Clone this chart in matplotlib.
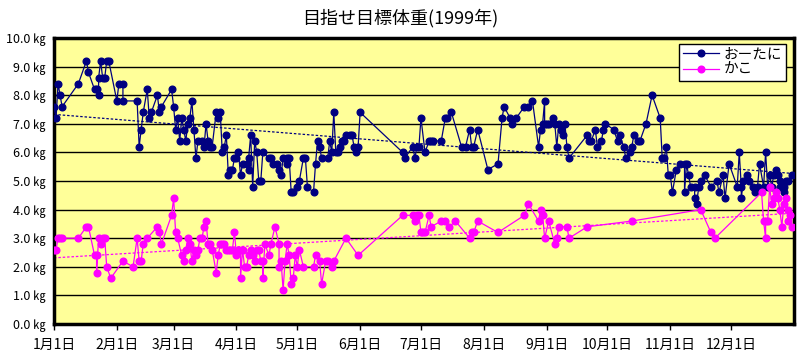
import numpy as np
import matplotlib
matplotlib.use("Agg")
import matplotlib.pyplot as plt

plt.rcParams['font.family'] = ['Noto Sans CJK JP', 'DejaVu Sans']

# 1999年1月1日からの日数と体重(kg)
otani_day = [0, 1, 2, 3, 4, 12, 16, 17, 20, 21, 22, 22, 23, 24, 25, 26, 27, 31, 32, 34, 34, 41, 42, 43, 44,
             46, 47, 48, 51, 52, 53, 58, 59, 60, 61, 62, 63, 64, 65, 66, 67, 68, 69, 70, 71, 73, 74, 75, 76,
             77, 78, 80, 81, 82, 83, 84, 85, 86, 87, 88, 89, 90, 91, 92, 93, 95, 96, 96, 97, 98, 99, 100,
             101, 102, 103, 106, 107, 108, 110, 111, 112, 113, 115, 115, 116, 117, 118, 120, 121, 123, 124,
             125, 128, 129, 130, 131, 132, 135, 136, 137, 138, 139, 140, 141, 142, 143, 144, 146, 147, 148,
             149, 150, 151, 172, 173, 177, 178, 179, 180, 181, 183, 185, 186, 187, 191, 193, 194, 196, 201,
             203, 205, 206, 207, 209, 214, 219, 221, 222, 225, 226, 228, 232, 234, 236, 239, 240, 241, 242,
             242, 243, 244, 246, 247, 248, 249, 250, 251, 252, 253, 254, 263, 264, 265, 267, 268, 270, 271,
             272, 276, 278, 279, 281, 282, 284, 285, 286, 288, 289, 292, 295, 299, 300, 301, 302, 303, 304,
             305, 307, 309, 311, 311, 312, 313, 314, 316, 316, 317, 318, 319, 321, 324, 327, 328, 330, 331,
             333, 337, 338, 339, 339, 340, 342, 343, 345, 346, 347, 348, 350, 351, 352, 353, 354, 355, 356,
             357, 358, 358, 360, 360, 361, 362, 364]
otani_kg = [7.6, 7.2, 8.4, 8.0, 7.6, 8.4, 9.2, 8.8, 8.2, 8.2, 8.0, 8.6, 9.2, 8.6, 8.6, 9.2, 9.2, 7.8, 8.4, 8.4,
            7.8, 7.8, 6.2, 6.8, 7.4, 8.2, 7.2, 7.4, 8.0, 7.4, 7.6, 8.2, 7.6, 6.8, 7.2, 6.4, 7.2, 6.8, 6.4,
            7.0, 7.2, 7.8, 6.8, 5.8, 6.4, 6.4, 6.2, 7.0, 6.4, 6.2, 6.2, 7.4, 7.2, 7.4, 6.0, 6.2, 6.6, 5.2,
            5.4, 5.4, 5.8, 5.8, 6.0, 5.2, 5.6, 5.6, 5.4, 5.8, 6.6, 4.8, 6.4, 6.0, 5.0, 5.0, 6.0, 5.8, 5.8,
            5.6, 5.6, 5.4, 5.2, 5.8, 5.6, 5.8, 5.8, 4.6, 4.6, 4.8, 5.0, 5.8, 5.8, 4.8, 4.6, 5.6, 6.4, 6.2,
            5.8, 5.8, 6.4, 6.0, 7.4, 6.0, 6.0, 6.2, 6.4, 6.4, 6.6, 6.6, 6.6, 6.2, 6.0, 6.2, 7.4, 6.0, 5.8,
            6.2, 5.8, 6.2, 6.2, 7.2, 6.0, 6.4, 6.4, 6.4, 6.4, 7.2, 7.2, 7.4, 6.2, 6.2, 6.8, 6.2, 6.2, 6.8,
            5.4, 5.6, 7.2, 7.6, 7.2, 7.0, 7.2, 7.6, 7.6, 7.8, 6.2, 6.8, 7.0, 7.8, 7.0, 7.0, 7.0, 7.2, 7.0,
            6.2, 7.0, 6.8, 6.6, 7.0, 6.2, 5.8, 6.6, 6.4, 6.4, 6.8, 6.2, 6.4, 6.8, 7.0, 6.8, 6.4, 6.6, 6.2,
            5.8, 6.0, 6.2, 6.6, 6.4, 6.4, 7.0, 8.0, 7.2, 5.8, 5.8, 6.2, 5.2, 5.2, 4.6, 5.4, 5.6, 5.6, 4.6,
            5.6, 5.2, 4.8, 4.8, 4.4, 4.2, 4.8, 5.0, 5.2, 4.8, 5.0, 4.6, 5.2, 4.4, 5.6, 4.8, 6.0, 4.8, 4.4,
            5.0, 5.2, 5.0, 4.8, 4.6, 4.8, 5.6, 4.8, 6.0, 4.8, 5.2, 4.8, 5.2, 5.4, 5.2, 5.0, 4.8, 4.6, 4.8,
            5.0, 5.0, 5.2]

kako_day = [0, 1, 2, 3, 4, 12, 16, 17, 20, 21, 21, 22, 23, 24, 25, 26, 28, 34, 39, 41, 42, 43, 44, 46, 51,
            52, 53, 58, 59, 60, 61, 63, 64, 65, 66, 67, 68, 69, 70, 71, 72, 73, 74, 75, 76, 77, 78, 80, 81,
            82, 83, 84, 85, 86, 87, 88, 89, 90, 91, 92, 92, 93, 94, 95, 96, 97, 98, 99, 100, 101, 102, 103,
            103, 104, 106, 107, 109, 111, 111, 112, 113, 114, 115, 116, 117, 118, 119, 120, 121, 123, 128,
            129, 131, 132, 134, 135, 137, 138, 144, 150, 172, 177, 178, 179, 180, 181, 182, 183, 185, 186,
            191, 193, 195, 198, 205, 206, 207, 209, 219, 232, 234, 239, 240, 241, 242, 244, 247, 248, 249,
            253, 254, 263, 285, 319, 324, 326, 349, 350, 351, 351, 352, 353, 354, 355, 356, 357, 358, 359,
            360, 361, 362, 362, 363, 364]
kako_kg = [2.6, 2.6, 3.0, 3.0, 3.0, 3.0, 3.4, 3.4, 2.4, 2.4, 1.8, 3.0, 2.8, 3.0, 3.0, 2.0, 1.6, 2.2, 2.0, 3.0,
           2.2, 2.2, 2.8, 3.0, 3.4, 3.2, 2.8, 3.8, 4.4, 3.2, 3.0, 2.4, 2.2, 2.6, 3.0, 2.8, 2.2, 2.6, 2.4,
           2.6, 3.0, 3.0, 3.4, 3.6, 2.8, 2.8, 2.6, 1.8, 2.4, 2.8, 2.8, 2.8, 2.6, 2.6, 2.6, 2.6, 3.2, 2.4,
           2.6, 2.6, 1.6, 2.6, 2.0, 2.0, 2.4, 2.6, 2.4, 2.2, 2.6, 2.6, 2.2, 2.2, 1.6, 2.8, 2.4, 2.8, 3.4,
           2.8, 2.0, 2.2, 1.2, 2.2, 2.8, 2.4, 1.4, 1.6, 2.4, 2.0, 2.6, 2.0, 2.0, 2.4, 2.2, 1.4, 2.2, 2.2,
           2.0, 2.2, 3.0, 2.4, 3.8, 3.8, 3.6, 3.8, 3.8, 3.2, 3.2, 3.2, 3.8, 3.4, 3.6, 3.6, 3.4, 3.6, 3.0,
           3.2, 3.2, 3.6, 3.2, 3.8, 4.2, 3.6, 4.0, 3.8, 3.0, 3.6, 2.8, 3.0, 3.4, 3.4, 3.0, 3.4, 3.6, 4.0,
           3.2, 3.0, 4.6, 3.6, 3.0, 3.6, 3.6, 4.8, 4.2, 4.4, 4.6, 4.4, 4.0, 3.4, 4.2, 4.4, 4.0, 3.6, 3.8,
           3.4]

month_start = [0, 31, 59, 90, 120, 151, 181, 212, 243, 273, 304, 334]
month_label = [f"{m}月1日" for m in range(1, 13)]
y_ticks = [0, 1, 2, 3, 4, 5, 6, 7, 8, 9, 10]

navy = '#000080'
pink = '#FF00FF'

fig = plt.figure(figsize=(8, 3.6), dpi=100)
ax = fig.add_axes([0.0675, 0.1, 0.925, 0.7944])
ax.set_facecolor('#FFFF99')

for d, w, c, name in [(otani_day, otani_kg, navy, 'おーたに'), (kako_day, kako_kg, pink, 'かこ')]:
    ax.plot(d, w, color=c, lw=0.9, marker='o', ms=4.8, mec=c, mfc=c, label=name, zorder=3)
    # 線形近似
    k, b = np.polyfit(d, w, 1)
    xs = np.array([0, 365])
    ax.plot(xs, k * xs + b, color=c, lw=0.9, dashes=(2, 1.5), zorder=2)

ax.set_xlim(0, 365)
ax.set_ylim(0, 10)
ax.set_yticks(y_ticks)
ax.set_yticklabels([f"{v:.1f} ㎏" for v in y_ticks], fontsize=9)
ax.set_xticks(month_start)
ax.set_xticklabels(month_label, fontsize=10)
ax.tick_params(axis='y', length=0, pad=6)
ax.tick_params(axis='x', length=4, width=1, direction='out', pad=6)
ax.yaxis.grid(True, color='black', lw=1)
ax.set_axisbelow(True)
for s in ax.spines.values():
    s.set_linewidth(2.5)
    s.set_color('black')

leg = ax.legend(loc='upper right', bbox_to_anchor=(0.995, 0.995), fontsize=10.5, frameon=True,
                fancybox=False, edgecolor='black', framealpha=1, handlelength=2.5,
                borderpad=0.25, labelspacing=0.1, handletextpad=0.3, borderaxespad=0.3)
leg.get_frame().set_linewidth(1)

fig.text(0.5, 0.95, '目指せ目標体重(1999年)', ha='center', va='center', fontsize=13)

fig.savefig('out.png', dpi=100)
